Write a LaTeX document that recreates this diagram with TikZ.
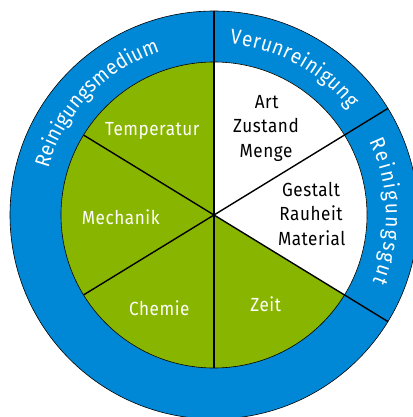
\documentclass[tikz,border=0pt]{standalone}
\usepackage{fontspec}
\setmainfont{Fira Sans}[FakeStretch=0.9, LetterSpace=3]
\usetikzlibrary{decorations.text}
\definecolor{ringblue}{RGB}{0,136,214}
\definecolor{sectgreen}{RGB}{136,181,0}
\newcommand\ringfont{\fontsize{21}{25}\selectfont\color{white}}
\begin{document}
\begin{tikzpicture}[x=1pt,y=1pt,
  divider/.style={line width=1.4pt, black},
  rim/.style={line width=0.6pt, black},
  label/.style={anchor=base, inner sep=0pt, font=\fontsize{19}{23}\selectfont},
  darklabel/.style={label, text=black},
  lightlabel/.style={label, text=white},
  ringtext/.style={postaction={decorate},
    decoration={text along path, text align={fit to path}}}]
\useasboundingbox (-214,-202) rectangle (198,215);
\coordinate (c) at (0,0);
% rings and sectors
\fill[ringblue] (c) circle[radius=204];
\draw[rim] (c) circle[radius=204];
\fill[sectgreen] (c) circle[radius=153];
\fill[white] (c) -- (-31.5:153) arc[start angle=-31.5, end angle=90, radius=153] -- cycle;
\draw[rim] (c) circle[radius=153];
% dividers
\coordinate (o90) at (90:204);
\coordinate (i270) at (270:153);
\coordinate (i148) at (148.5:153);
\coordinate (o328) at (-31.5:204);
\coordinate (i211) at (211.5:153);
\coordinate (o31) at (31.5:204);
\draw[divider] (o90) -- (i270);
\draw[divider] (i148) -- (o328);
\draw[divider] (i211) -- (o31);
% ring texts
\path[ringtext, decoration={text={|\ringfont|Reinigungsmedium}}]
  (164.4:172) arc[start angle=164.4, end angle=108.3, radius=172];
\path[ringtext, decoration={text={|\ringfont|Verunreinigung}}]
  (84.7:172) arc[start angle=84.7, end angle=38, radius=172];
\path[ringtext, decoration={text={|\ringfont|Reinigungsgut}}]
  (25.4:172) arc[start angle=25.4, end angle=-22.8, radius=172];
% sector texts
\node[darklabel] (art) at (52.7,106.7) {Art};
\node[darklabel] (zustand) at (52,82.3) {Zustand};
\node[darklabel] (menge) at (52,57.7) {Menge};
\node[darklabel] (gestalt) at (97,18.3) {Gestalt};
\node[darklabel] (rauheit) at (97,-5.5) {Rauheit};
\node[darklabel] (material) at (97.7,-30.7) {Material};
\node[lightlabel] (temp) at (-61.7,79) {Temperatur};
\node[lightlabel] (mech) at (-93.3,-10) {Mechanik};
\node[lightlabel] (chem) at (-54.7,-100) {Chemie};
\node[lightlabel] (zeit) at (51.7,-96.7) {Zeit};
\end{tikzpicture}
\end{document}
